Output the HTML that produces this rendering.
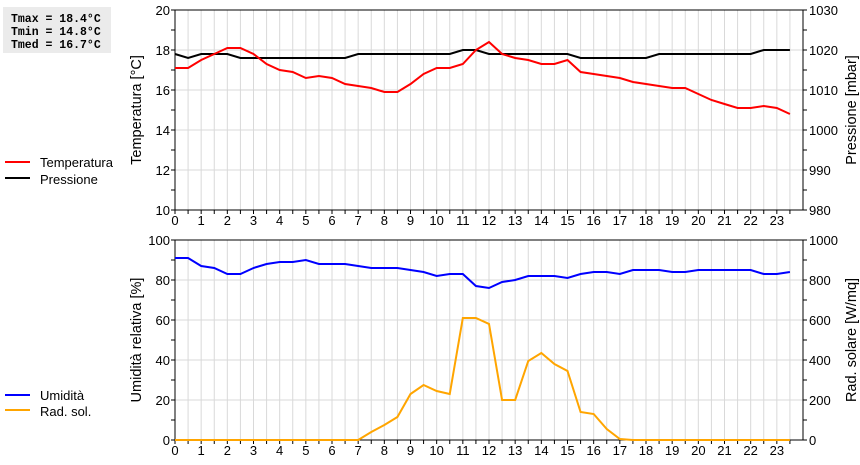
<!DOCTYPE html>
<html><head><meta charset="utf-8"><style>
body{margin:0;background:#fff;width:860px;height:460px;overflow:hidden}
svg{font-family:"Liberation Sans",sans-serif}
</style></head><body>
<svg id="c" width="860" height="460">
<rect x="3" y="7" width="108" height="46" fill="#ebebeb"/>
<g font-family="Liberation Mono,monospace" font-weight="bold" font-size="11.5">
<text x="11" y="22">Tmax = 18.4°C</text>
<text x="11" y="35">Tmin = 14.8°C</text>
<text x="11" y="48">Tmed = 16.7°C</text>
</g>
<g font-size="13">
<line x1="5" y1="162" x2="30" y2="162" stroke="#f00" stroke-width="2"/><text x="40" y="167">Temperatura</text>
<line x1="5" y1="178" x2="30" y2="178" stroke="#000" stroke-width="2"/><text x="40" y="184">Pressione</text>
<line x1="5" y1="395" x2="30" y2="395" stroke="#00f" stroke-width="2"/><text x="40" y="400">Umidità</text>
<line x1="5" y1="410" x2="30" y2="410" stroke="#ffa500" stroke-width="2"/><text x="40" y="416">Rad. sol.</text>
</g>
</svg>
<script>
const hours=[0,0.5,1,1.5,2,2.5,3,3.5,4,4.5,5,5.5,6,6.5,7,7.5,8,8.5,9,9.5,10,10.5,11,11.5,12,12.5,13,13.5,14,14.5,15,15.5,16,16.5,17,17.5,18,18.5,19,19.5,20,20.5,21,21.5,22,22.5,23,23.5];
const temperature=[17.1,17.1,17.5,17.8,18.1,18.1,17.8,17.3,17.0,16.9,16.6,16.7,16.6,16.3,16.2,16.1,15.9,15.9,16.3,16.8,17.1,17.1,17.3,18.0,18.4,17.8,17.6,17.5,17.3,17.3,17.5,16.9,16.8,16.7,16.6,16.4,16.3,16.2,16.1,16.1,15.8,15.5,15.3,15.1,15.1,15.2,15.1,14.8];
const pressure=[1019,1018,1019,1019,1019,1018,1018,1018,1018,1018,1018,1018,1018,1018,1019,1019,1019,1019,1019,1019,1019,1019,1020,1020,1019,1019,1019,1019,1019,1019,1019,1018,1018,1018,1018,1018,1018,1019,1019,1019,1019,1019,1019,1019,1019,1020,1020,1020];
const humidity=[91,91,87,86,83,83,86,88,89,89,90,88,88,88,87,86,86,86,85,84,82,83,83,77,76,79,80,82,82,82,81,83,84,84,83,85,85,85,84,84,85,85,85,85,85,83,83,84];
const radiation=[0,0,0,0,0,0,0,0,0,0,0,0,0,0,0,40,75,115,230,275,245,230,610,610,580,200,200,395,435,380,345,140,130,55,5,0,0,0,0,0,0,0,0,0,0,0,0,0];
const tempTicks=[10,12,14,16,18,20];
const presTicks=[980,990,1000,1010,1020,1030];
const humTicks=[0,20,40,60,80,100];
const radTicks=[0,200,400,600,800,1000];
const hourLabels=[0,1,2,3,4,5,6,7,8,9,10,11,12,13,14,15,16,17,18,19,20,21,22,23];

const svg=document.getElementById('c');
const NS='http://www.w3.org/2000/svg';
const L=175,R=803;
const xS=h=>L+(R-L)*h/24;
function mk(tag,attrs,parent){const e=document.createElementNS(NS,tag);for(const k in attrs)e.setAttribute(k,attrs[k]);(parent||svg).appendChild(e);return e;}
function panel(top,bot,lt,rt,lTitle,rTitle,s1,c1,s2,c2,pname){
  const g=mk('g',{});
  
  
  const lMin=lt[0],lMax=lt[lt.length-1],rMin=rt[0],rMax=rt[rt.length-1];
  const yl=v=>bot-(v-lMin)/(lMax-lMin)*(bot-top);
  const yr=v=>bot-(v-rMin)/(rMax-rMin)*(bot-top);
  for(let h=0.5;h<24;h+=0.5){mk('line',{x1:xS(h),y1:top,x2:xS(h),y2:bot,stroke:'#d9d9d9','stroke-width':1},g);}
  lt.forEach(v=>{mk('line',{x1:L,y1:yl(v),x2:R,y2:yl(v),stroke:'#d9d9d9','stroke-width':1},g);});
  mk('rect',{x:L,y:top,width:R-L,height:bot-top,fill:'none',stroke:'#000','stroke-width':1},g);
  lt.forEach((v,i)=>{const t=mk('text',{x:L-5,y:yl(v)+5,'text-anchor':'end','font-size':13},g);t.textContent=v;
    mk('line',{x1:L-4,y1:yl(v),x2:L,y2:yl(v),stroke:'#000'},g);
    if(i<lt.length-1){const m=(v+lt[i+1])/2;mk('line',{x1:L-4,y1:yl(m),x2:L,y2:yl(m),stroke:'#000'},g);}});
  rt.forEach((v,i)=>{const t=mk('text',{x:R+6,y:yr(v)+5,'font-size':13},g);t.textContent=v;
    mk('line',{x1:R,y1:yr(v),x2:R+4,y2:yr(v),stroke:'#000'},g);
    if(i<rt.length-1){const m=(v+rt[i+1])/2;mk('line',{x1:R,y1:yr(m),x2:R+4,y2:yr(m),stroke:'#000'},g);}});
  for(let h=0;h<24;h+=0.5){mk('line',{x1:xS(h),y1:bot,x2:xS(h),y2:bot+4,stroke:'#000'},g);}
  hourLabels.forEach(h=>{const t=mk('text',{x:xS(h),y:bot+15,'text-anchor':'middle','font-size':13},g);t.textContent=h;});
  const cy=(top+bot)/2;
  const t1=mk('text',{x:0,y:0,'text-anchor':'middle','font-size':14.5,transform:`translate(141,${cy}) rotate(-90)`},g);t1.textContent=lTitle;
  
  const t2=mk('text',{x:0,y:0,'text-anchor':'middle','font-size':14.5,transform:`translate(856,${cy}) rotate(-90)`},g);t2.textContent=rTitle;
  
  const p2=mk('polyline',{points:hours.map((h,i)=>xS(h)+','+yr(s2[i])).join(' '),fill:'none',stroke:c2,'stroke-width':2},g);
  
  const p1=mk('polyline',{points:hours.map((h,i)=>xS(h)+','+yl(s1[i])).join(' '),fill:'none',stroke:c1,'stroke-width':2},g);
  
  return {yl,yr,g};
}
const A=panel(10,210,tempTicks,presTicks,'Temperatura [°C]','Pressione [mbar]',temperature,'#f00',pressure,'#000','temp-pressure-panel');
// pressure drawn under temperature; reorder to put pressure line above? keep temp on top
const B=panel(240,440,humTicks,radTicks,'Umidità relativa [%]','Rad. solare [W/mq]',humidity,'#00f',radiation,'#ffa500','humidity-radiation-panel');
// bring humidity over radiation is default
</script>
</body></html>
